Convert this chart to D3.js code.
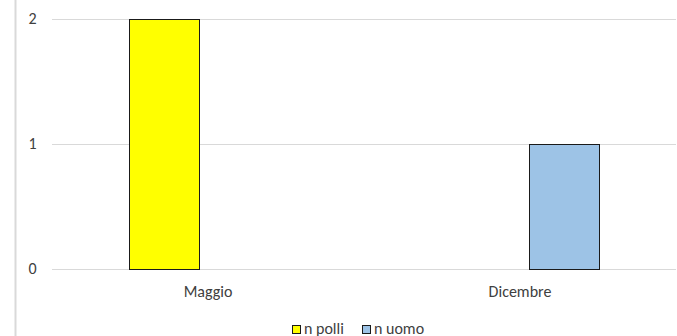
<!DOCTYPE html>
<html>
<head>
<meta charset="utf-8">
<script src="https://cdn.jsdelivr.net/npm/d3@7"></script>
<style>
  html, body { margin: 0; padding: 0; background: #fff; }
  svg { display: block; font-family: "Carlito", "Lato", "Open Sans", sans-serif; }
</style>
</head>
<body>
<svg id="chart" width="677" height="336"></svg>
<script>
// Months on the category axis
const categories = ["Maggio", "Dicembre"];
// Series names and their counts per month
const seriesNames = ["n polli", "n uomo"];
const nPolli = [2, 0];
const nUomo = [0, 1];
const yTicks = [0, 1, 2];
const seriesColors = ["#FFFF00", "#9DC3E6"];

const svg = d3.select("#chart");
const W = 677, H = 336;
const plot = { left: 52, right: 676, top: 18.5, bottom: 268.5 };
const FS = 16;
const TEXT = "#404040";

// Frame line on the left edge of the chart area
svg.append("line")
  .attr("x1", 15.5).attr("x2", 15.5)
  .attr("y1", 0).attr("y2", H)
  .attr("stroke", "#d9d9d9").attr("stroke-width", 2);

const x0 = d3.scaleBand().domain(categories).range([plot.left, plot.right]);
const x1 = d3.scaleBand().domain(seriesNames)
  .range([0, x0.bandwidth()])
  .paddingInner(18 / 88)
  .paddingOuter(77 / 88);
const y = d3.scaleLinear().domain([0, 2]).range([plot.bottom, plot.top]);

// Horizontal gridlines
svg.append("g").selectAll("line")
  .data(yTicks)
  .join("line")
  .attr("x1", plot.left).attr("x2", plot.right)
  .attr("y1", d => Math.round(y(d)) + 0.5)
  .attr("y2", d => Math.round(y(d)) + 0.5)
  .attr("stroke", "#d9d9d9").attr("stroke-width", 1);

// Y tick labels
svg.append("g").selectAll("text")
  .data(yTicks)
  .join("text")
  .attr("x", 32.5)
  .attr("y", d => y(d))
  .attr("dy", "0.36em")
  .attr("text-anchor", "middle")
  .attr("font-size", FS)
  .attr("fill", TEXT)
  .text(d => d);

// Bars
const rows = categories.map((c, i) => ({ cat: c, vals: [nPolli[i], nUomo[i]] }));
const groups = svg.append("g").selectAll("g")
  .data(rows)
  .join("g")
  .attr("transform", d => `translate(${x0(d.cat)},0)`);

groups.selectAll("rect")
  .data(d => d.vals.map((v, j) => ({ name: seriesNames[j], v, j })).filter(e => e.v > 0))
  .join("rect")
  .attr("x", d => Math.round(x1(d.name)) + 0.5)
  .attr("y", d => Math.round(y(d.v)) + 0.5)
  .attr("width", x1.bandwidth())
  .attr("height", d => y(0) - y(d.v))
  .attr("fill", d => seriesColors[d.j])
  .attr("stroke", "#1a1a1a")
  .attr("stroke-width", 1);

// Category labels
svg.append("g").selectAll("text")
  .data(categories)
  .join("text")
  .attr("x", d => x0(d) + x0.bandwidth() / 2)
  .attr("y", 297)
  .attr("text-anchor", "middle")
  .attr("font-size", FS)
  .attr("fill", TEXT)
  .text(d => d);

// Legend
const legend = svg.append("g");
const legendItems = [
  { name: seriesNames[0], color: seriesColors[0], x: 292 },
  { name: seriesNames[1], color: seriesColors[1], x: 362 }
];
legendItems.forEach(it => {
  legend.append("rect")
    .attr("x", it.x + 0.5).attr("y", 325.5)
    .attr("width", 8).attr("height", 8)
    .attr("fill", it.color)
    .attr("stroke", "#1a1a1a").attr("stroke-width", 1);
  legend.append("text")
    .attr("x", it.x + 12).attr("y", 333.5)
    .attr("font-size", FS)
    .attr("fill", TEXT)
    .text(it.name);
});
</script>
</body>
</html>
